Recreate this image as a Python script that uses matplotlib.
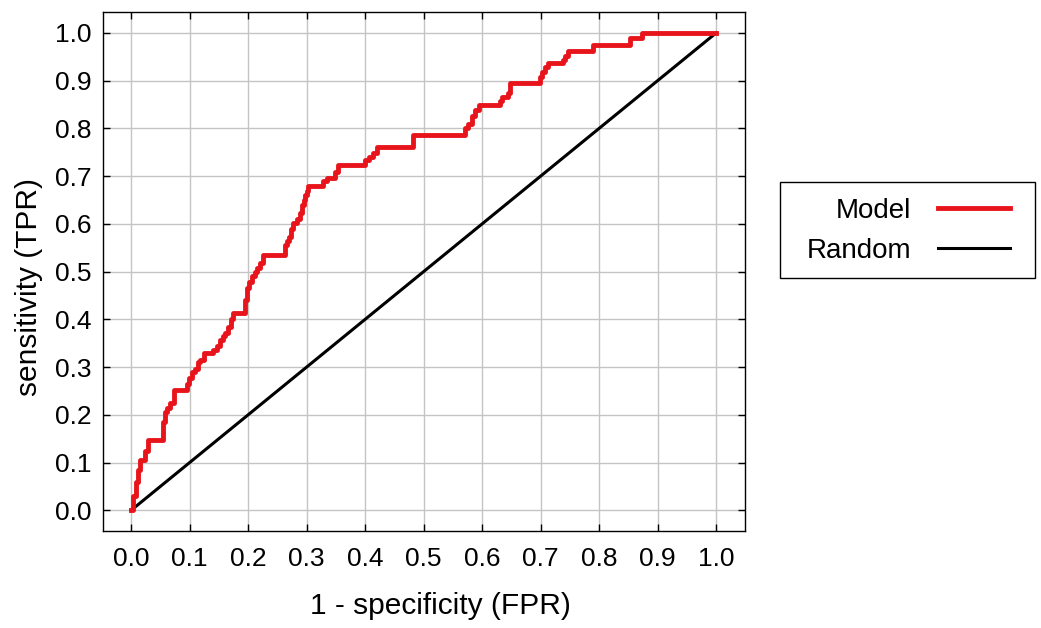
import numpy as np
from matplotlib import pyplot as plt
from matplotlib.patches import Rectangle

plt.rcParams['font.family'] = ['Liberation Sans', 'DejaVu Sans']

# ROC curve corner points (false positive rate, true positive rate)
fpr = [0.0, 0.004, 0.008, 0.012, 0.015, 0.024, 0.028, 0.054, 0.058, 0.062,
       0.067, 0.073, 0.095, 0.099, 0.104, 0.109, 0.114, 0.118, 0.124, 0.140,
       0.147, 0.152, 0.157, 0.161, 0.166, 0.170, 0.174, 0.195, 0.198, 0.202,
       0.206, 0.211, 0.215, 0.220, 0.226, 0.263, 0.266, 0.270, 0.274, 0.277,
       0.283, 0.289, 0.292, 0.295, 0.297, 0.300, 0.303, 0.328, 0.334, 0.349,
       0.354, 0.400, 0.406, 0.414, 0.420, 0.482, 0.571, 0.576, 0.582, 0.588,
       0.595, 0.631, 0.634, 0.645, 0.648, 0.699, 0.703, 0.708, 0.713, 0.739,
       0.742, 0.747, 0.790, 0.853, 0.873, 1.0]
tpr = [0.0, 0.030, 0.060, 0.085, 0.105, 0.125, 0.147, 0.185, 0.205, 0.215,
       0.225, 0.252, 0.265, 0.278, 0.290, 0.295, 0.310, 0.315, 0.330, 0.335,
       0.345, 0.356, 0.365, 0.371, 0.385, 0.400, 0.413, 0.440, 0.465, 0.478,
       0.490, 0.500, 0.507, 0.518, 0.534, 0.556, 0.565, 0.573, 0.590, 0.601,
       0.610, 0.622, 0.639, 0.650, 0.660, 0.668, 0.680, 0.689, 0.696, 0.709,
       0.723, 0.734, 0.740, 0.749, 0.761, 0.786, 0.800, 0.810, 0.825, 0.839,
       0.849, 0.857, 0.866, 0.874, 0.895, 0.908, 0.918, 0.928, 0.937, 0.943,
       0.952, 0.962, 0.975, 0.989, 1.0, 1.0]
diag = [0.0, 1.0]
ticks = np.round(np.arange(0, 1.01, 0.1), 1)

fig = plt.figure(figsize=(10.41, 6.28), dpi=100)
ax = fig.add_axes([0.099, 0.154, 0.617, 0.827])

ax.plot(diag, diag, color='black', lw=2.2, label='Random', zorder=3)
ax.plot(fpr, tpr, color='#e8141c', lw=3.5, drawstyle='steps-post', label='Model', zorder=4)

ax.set_xlim(-0.048, 1.05)
ax.set_ylim(-0.044, 1.044)
ax.set_xticks(ticks)
ax.set_yticks(ticks)
ax.set_xticklabels(['%.1f' % t for t in ticks])
ax.set_yticklabels(['%.1f' % t for t in ticks])
ax.grid(True, color='#c4c4c4', lw=1)
ax.set_axisbelow(True)
ax.tick_params(direction='in', length=5, width=1, top=True, right=True,
               labelsize=19)
ax.tick_params(axis='x', pad=11)
ax.tick_params(axis='y', pad=8)
for s in ax.spines.values():
    s.set_linewidth(1)
    s.set_color('black')

ax.set_xlabel('1 - specificity (FPR)', fontsize=21.5)
ax.set_ylabel('sensitivity (TPR)', fontsize=21.5)
ax.xaxis.set_label_coords(0.525, -0.117)
ax.yaxis.set_label_coords(-0.093, 0.471)

# legend: text on the left, line sample on the right, inside a plain box
handles, labels = ax.get_legend_handles_labels()
leg = fig.legend(handles[::-1], labels[::-1], loc='center left',
                 bbox_to_anchor=(807 / 1041, 1 - 231 / 628), fontsize=20,
                 markerfirst=False, handlelength=2.6, handletextpad=0.95,
                 labelspacing=0.5, borderpad=0, borderaxespad=0, frameon=False)
for t in leg.get_texts():
    t.set_ha('right')
fig.add_artist(Rectangle((780 / 1041, 1 - 278 / 628), 255 / 1041, 96 / 628,
                         transform=fig.transFigure, fill=False,
                         edgecolor='black', lw=1))

fig.savefig('out.png', dpi=100)
